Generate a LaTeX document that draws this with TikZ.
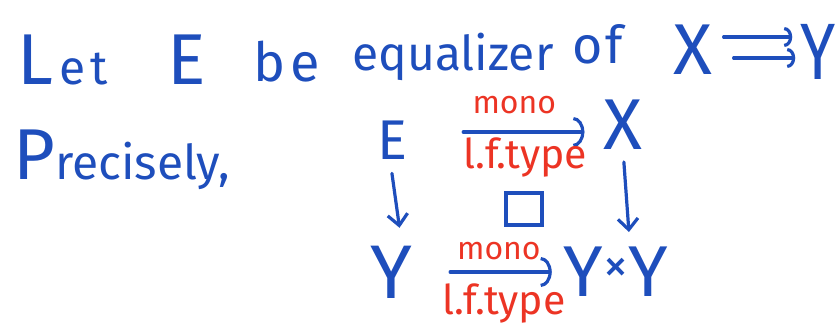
\documentclass[tikz,border=0pt]{standalone}
\usepackage{fontspec}
\setmainfont{Fira Sans}
\usetikzlibrary{arrows.meta}
\definecolor{ink}{RGB}{30,78,188}
\definecolor{redink}{RGB}{236,52,36}
\newcommand\bigtxt{\fontsize{72}{80}\selectfont}
\newcommand\smtxt{\fontsize{48}{56}\selectfont}
\newcommand\monotxt{\fontsize{32}{36}\selectfont}
\newcommand\typetxt{\fontsize{41}{46}\selectfont}

\begin{document}
\begin{tikzpicture}[x=1pt,y=1pt,
  word/.style={inner sep=0pt, text=ink, anchor=base west},
  obj/.style={inner sep=0pt, text=ink},
  lbl/.style={inner sep=0pt, text=redink},
  arr/.style={draw=ink, line width=3.2pt, line cap=round, -{Arc Barb[length=11pt,width=30pt]}},
  harr/.style={draw=ink, line width=3.2pt, line cap=round, -{Arc Barb[length=8pt,width=20pt]}},
  varr/.style={draw=ink, line width=3.2pt, line cap=round, line join=round, -{Straight Barb[length=11pt,width=20pt]}},
  ]
\useasboundingbox (0,0) rectangle (837,332);

% heading line
\node[word] (let) at (17,247) {{\bigtxt L}\hspace{6pt}{\smtxt e\hspace{5pt}t}};
\node[word] (e1) at (167,247) {\bigtxt E};
\node[word] (be) at (253,250) {\fontsize{54}{60}\selectfont b\hspace{5pt}e};
\node[word] (eq) at (352,261) {\smtxt equalizer};
\node[word] (of) at (572,268) {\fontsize{52}{60}\selectfont o\hspace{3pt}f};
\node[obj, font=\bigtxt] (hx) at (693,282) {X};
\node[obj, font=\fontsize{80}{88}\selectfont] (hy) at (818,280) {\scalebox{0.8}[1]{Y}};
\draw[harr, shorten <=11pt, shorten >=8pt] ([yshift=13pt]hx.east) -- ([yshift=15pt]hy.west);
\draw[harr, shorten <=21pt, shorten >=5pt] ([yshift=-8pt]hx.east) -- ([yshift=-6pt]hy.west);

\node[word] (prec) at (13,152) {{\bigtxt P}{\smtxt recisely,}};

% the square
\node[obj, font=\fontsize{56}{62}\selectfont] (E) at (392,192) {E};
\node[obj, font=\bigtxt] (X) at (623,207) {X};
\node[obj, font=\fontsize{76}{84}\selectfont] (Y) at (391,60) {Y};
\node[obj, font=\bigtxt] (YY) at (616,60) {Y\raisebox{14pt}{\fontsize{50}{56}\selectfont ×}Y};
\node[draw=ink, line width=3.2pt, minimum width=36pt, minimum height=32pt, inner sep=0pt] (pb) at (524,123) {};

\draw[arr, shorten <=56pt, shorten >=19pt] ([yshift=8pt]E.east)
  -- node[lbl, font=\monotxt, above=17pt, xshift=9pt] (m1) {mono}
     node[lbl, font=\typetxt, below=4pt, xshift=20pt] (t1) {l.f.type}
  ([yshift=-7pt]X.west);
\draw[arr, shorten <=38pt, shorten >=12pt] (Y.east)
  -- node[lbl, font=\monotxt, above=11pt, xshift=11pt] (m2) {mono}
     node[lbl, font=\typetxt, below=10pt, xshift=16pt] (t2) {l.f.type}
  (YY.west);
\draw[varr, shorten <=14pt, shorten >=18pt] ([xshift=-2pt]E.south) -- ([xshift=11pt]Y.north);
\draw[varr, shorten <=12pt, shorten >=15pt] (X.south) -- ([xshift=14pt]YY.north);
\end{tikzpicture}
\end{document}
